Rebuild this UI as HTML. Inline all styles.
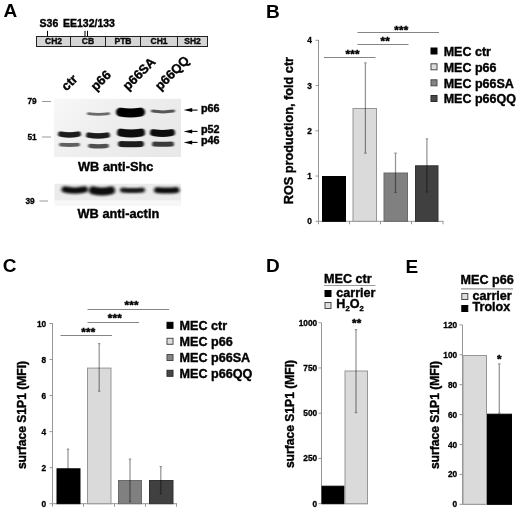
<!DOCTYPE html>
<html><head><meta charset="utf-8"><title>Figure</title>
<style>
html,body{margin:0;padding:0;background:#fff;}
body{width:520px;height:510px;overflow:hidden;}
svg{display:block;}
text{font-family:"Liberation Sans",sans-serif;font-weight:bold;fill:#000;stroke:#000;stroke-width:0.38px;}
.pl{font-size:19px;stroke-width:0;}
.t8{font-size:8.3px;stroke-width:0.3px;}
.t12{font-size:12.6px;}
.ax{stroke:#969696;stroke-width:1;fill:none;}
.eb{stroke:#000;stroke-opacity:0.42;stroke-width:1.25;fill:none;}
.sg{stroke:#858585;stroke-width:1;fill:none;}
.st{font-size:11.6px;text-anchor:middle;stroke-width:0.45px;letter-spacing:0.25px;}
</style></head><body>
<svg width="520" height="510" viewBox="0 0 520 510">
<defs>
<filter id="b1" filterUnits="userSpaceOnUse" x="40" y="90" width="160" height="80"><feGaussianBlur stdDeviation="1.0 0.75"/></filter>
<filter id="b2" filterUnits="userSpaceOnUse" x="40" y="175" width="160" height="40"><feGaussianBlur stdDeviation="1.4 1.0"/></filter>
<linearGradient id="g1" x1="0" y1="0" x2="1" y2="0.45"><stop offset="0" stop-color="#f8f8f8"/><stop offset="0.45" stop-color="#efefef"/><stop offset="1" stop-color="#e9e9e9"/></linearGradient>
</defs>
<rect x="0" y="0" width="520" height="510" fill="#fff"/>

<g id="panelA">
<text class="pl" x="3.6" y="16.5">A</text>
<text x="39.6" y="27" style="font-size:10.5px">S36 <tspan x="63">EE132/133</tspan></text>
<path d="M47.5 30.8V36M85 30.8V36M87.5 30.8V36" stroke="#000" stroke-width="1" fill="none"/>
<rect x="36.5" y="36.5" width="171" height="10" fill="#d6d6d6" stroke="#222" stroke-width="1"/>
<path d="M70.5 36.5V46.5M105.5 36.5V46.5M140.5 36.5V46.5M177.5 36.5V46.5" stroke="#222" stroke-width="1" fill="none"/>
<text transform="translate(53.5 44.4) scale(0.92 1)" text-anchor="middle" style="font-size:9.3px;fill:#111">CH2</text>
<text transform="translate(88 44.4) scale(0.92 1)" text-anchor="middle" style="font-size:9.3px;fill:#111">CB</text>
<text transform="translate(123 44.4) scale(0.92 1)" text-anchor="middle" style="font-size:9.3px;fill:#111">PTB</text>
<text transform="translate(159 44.4) scale(0.92 1)" text-anchor="middle" style="font-size:9.3px;fill:#111">CH1</text>
<text transform="translate(192.5 44.4) scale(0.92 1)" text-anchor="middle" style="font-size:9.3px;fill:#111">SH2</text>
<text transform="translate(66.6 91.5) rotate(-45)" style="font-size:12.9px">ctr</text>
<text transform="translate(96 91.5) rotate(-45)" style="font-size:12.9px">p66</text>
<text transform="translate(128 91) rotate(-45)" style="font-size:12.9px">p66SA</text>
<text transform="translate(160.3 91) rotate(-45)" style="font-size:12.9px">p66QQ</text>
<rect x="54" y="98.8" width="127" height="58.2" fill="url(#g1)"/>
<g filter="url(#b1)">
<path d="M60.8 134.10Q69.5 135.70 78.2 134.10" stroke="#1c1c1c" stroke-width="5.5" stroke-linecap="round" fill="none" opacity="1"/>
<path d="M60.9 144.60Q69.5 145.40 78.1 144.60" stroke="#606060" stroke-width="3.8" stroke-linecap="round" fill="none" opacity="1"/>
<path d="M88.3 113.60Q98.5 115.20 108.7 113.60" stroke="#6a6a6a" stroke-width="2.6" stroke-linecap="round" fill="none" opacity="1"/>
<path d="M88.8 135.10Q98.0 136.70 107.2 135.10" stroke="#1c1c1c" stroke-width="5.5" stroke-linecap="round" fill="none" opacity="1"/>
<path d="M90.2 145.85Q98.5 146.85 106.8 145.85" stroke="#505050" stroke-width="4.3" stroke-linecap="round" fill="none" opacity="1"/>
<path d="M120.5 112.10Q130.5 113.70 140.5 112.10" stroke="#050505" stroke-width="9" stroke-linecap="round" fill="none" opacity="1"/>
<path d="M121.0 132.60Q131.0 134.20 141.0 132.60" stroke="#0a0a0a" stroke-width="8" stroke-linecap="round" fill="none" opacity="1"/>
<path d="M121.0 143.95Q131.0 144.55 141.0 143.95" stroke="#1c1c1c" stroke-width="6" stroke-linecap="round" fill="none" opacity="1"/>
<path d="M152.5 111.10Q163.0 112.70 173.5 111.10" stroke="#555" stroke-width="3" stroke-linecap="round" fill="none" opacity="1"/>
<path d="M153.5 132.60Q162.5 134.20 171.5 132.60" stroke="#111" stroke-width="7" stroke-linecap="round" fill="none" opacity="1"/>
<path d="M154.5 144.00Q163.0 144.40 171.5 144.00" stroke="#3a3a3a" stroke-width="5" stroke-linecap="round" fill="none" opacity="1"/>
</g>
<text class="t8" x="27.5" y="104" >79</text>
<text class="t8" x="27.5" y="139.5">51</text>
<text class="t8" x="25.5" y="203.8">39</text>
<path d="M42 101.5H51M42 137H51M39.5 201H48" stroke="#999" stroke-width="1" fill="none"/>
<path d="M197.5 110.1H190" stroke="#000" stroke-width="1.1" fill="none"/><path d="M183.6 110.1l8.6 -2v4z" fill="#000"/>
<text x="201" y="112.2" style="font-size:10.8px">p66</text>
<path d="M197.5 131.4H190" stroke="#000" stroke-width="1.1" fill="none"/><path d="M183.6 131.4l8.6 -2v4z" fill="#000"/>
<text x="201" y="132.8" style="font-size:10.8px">p52</text>
<path d="M197.5 142.4H190" stroke="#000" stroke-width="1.1" fill="none"/><path d="M183.6 142.4l8.6 -2v4z" fill="#000"/>
<text x="201" y="144" style="font-size:10.8px">p46</text>
<text x="78" y="171" style="font-size:12.8px">WB anti-Shc</text>
<rect x="54.5" y="184" width="126.5" height="22" fill="#f7f7f7"/>
<rect x="54.5" y="183.7" width="126.5" height="16.6" fill="#ebebeb"/>
<g filter="url(#b2)">
<path d="M64.7 189.40Q74.8 191.80 84.8 189.40" stroke="#111" stroke-width="6.3" stroke-linecap="round" fill="none" opacity="1"/>
<path d="M93.0 190.40Q102.0 192.80 111.0 190.40" stroke="#0c0c0c" stroke-width="8" stroke-linecap="round" fill="none" opacity="1"/>
<path d="M122.5 190.00Q132.5 191.20 142.5 190.00" stroke="#181818" stroke-width="5" stroke-linecap="round" fill="none" opacity="1"/>
<path d="M157.0 190.00Q166.8 191.20 176.5 190.00" stroke="#111" stroke-width="6" stroke-linecap="round" fill="none" opacity="1"/>
</g>
<text x="77.5" y="217.5" style="font-size:12.8px">WB anti-actin</text>
</g>
<g id="panelB">
<text class="pl" x="266.1" y="18.3">B</text>
<text class="t12" transform="translate(293 130.6) rotate(-90)" text-anchor="middle" style="font-size:12.7px">ROS production, fold ctr</text>
<path class="ax" d="M318.5 40V221.3H443.5"/>
<text class="t8" x="311.8" y="224.3" text-anchor="end">0</text>
<text class="t8" x="311.8" y="179.05" text-anchor="end">1</text>
<text class="t8" x="311.8" y="133.8" text-anchor="end">2</text>
<text class="t8" x="311.8" y="88.55" text-anchor="end">3</text>
<text class="t8" x="311.8" y="43.3" text-anchor="end">4</text>
<path class="ax" d="M315.5 221.3H318.5M315.5 176.05H318.5M315.5 130.8H318.5M315.5 85.55H318.5M315.5 40.3H318.5M318.5 221.3V224.3M349.5 221.3V224.3M380.5 221.3V224.3M411.5 221.3V224.3M443 221.3V224.3"/>
<rect x="322.5" y="176.5" width="23" height="44.80000000000001" fill="#000" stroke="#000" stroke-width="1"/>
<rect x="353.0" y="108.5" width="23.5" height="112.80000000000001" fill="#dadada" stroke="#969696" stroke-width="1"/>
<rect x="384.0" y="173.0" width="23.5" height="48.30000000000001" fill="#808080" stroke="#6a6a6a" stroke-width="1"/>
<rect x="415.5" y="165.8" width="22.5" height="55.5" fill="#404040" stroke="#333" stroke-width="1"/>
<path class="eb" d="M365.4 62.8V153M364.2 62.8H366.59999999999997M364.2 153H366.59999999999997"/>
<path class="eb" d="M395.5 153V192.4M394.3 153H396.7M394.3 192.4H396.7"/>
<path class="eb" d="M426.9 138.8V191.8M425.7 138.8H428.09999999999997M425.7 191.8H428.09999999999997"/>
<path class="sg" d="M324 57.5H375.5M357.5 44.5H408.5M357.5 32.5H439"/>
<text class="st" x="352.7" y="58">***</text>
<text class="st" x="385.2" y="44.9">**</text>
<text class="st" x="401.4" y="34">***</text>
<rect x="431.0" y="48.0" width="6" height="6" fill="#000" stroke="#000" stroke-width="1"/>
<text x="443.7" y="55.8" style="font-size:12.5px">MEC ctr</text>
<rect x="431.0" y="63.8" width="6" height="6" fill="#dedede" stroke="#4a4a4a" stroke-width="1"/>
<text x="443.7" y="71.6" style="font-size:12.5px">MEC p66</text>
<rect x="431.0" y="79.8" width="6" height="6" fill="#858585" stroke="#4a4a4a" stroke-width="1"/>
<text x="443.7" y="87.6" style="font-size:12.5px">MEC p66SA</text>
<rect x="431.0" y="95.5" width="6" height="6" fill="#484848" stroke="#2a2a2a" stroke-width="1"/>
<text x="443.7" y="103.3" style="font-size:12.5px">MEC p66QQ</text>
</g>
<g id="panelC">
<text class="pl" x="2.7" y="271.6">C</text>
<text transform="translate(26.3 415) rotate(-90)" text-anchor="middle" style="font-size:12.1px">surface S1P1 (MFI)</text>
<path class="ax" d="M52.5 323V503.7H177"/>
<text class="t8" x="46.2" y="506.7" text-anchor="end">0</text>
<text class="t8" x="46.2" y="470.66" text-anchor="end">2</text>
<text class="t8" x="46.2" y="434.62" text-anchor="end">4</text>
<text class="t8" x="46.2" y="398.58" text-anchor="end">6</text>
<text class="t8" x="46.2" y="362.54" text-anchor="end">8</text>
<text class="t8" x="46.2" y="326.5" text-anchor="end">10</text>
<path class="ax" d="M49.5 503.7H52.5M49.5 467.66H52.5M49.5 431.62H52.5M49.5 395.58H52.5M49.5 359.54H52.5M49.5 323.5H52.5M52.5 503.7V506.7M83.5 503.7V506.7M114.5 503.7V506.7M145.5 503.7V506.7M176.5 503.7V506.7"/>
<rect x="57.0" y="468.8" width="23.0" height="34.89999999999998" fill="#000" stroke="#000" stroke-width="1"/>
<rect x="87.5" y="368.1" width="23.5" height="135.59999999999997" fill="#dadada" stroke="#969696" stroke-width="1"/>
<rect x="118.5" y="480.5" width="23" height="23.19999999999999" fill="#808080" stroke="#6a6a6a" stroke-width="1"/>
<rect x="149.5" y="480.5" width="23.5" height="23.19999999999999" fill="#404040" stroke="#333" stroke-width="1"/>
<path class="eb" d="M68 449V487M66.8 449H69.2M66.8 487H69.2"/>
<path class="eb" d="M99.2 343.7V391.2M98.0 343.7H100.4M98.0 391.2H100.4"/>
<path class="eb" d="M130 459V501.5M128.8 459H131.2M128.8 501.5H131.2"/>
<path class="eb" d="M160.8 466.5V493.6M159.60000000000002 466.5H162.0M159.60000000000002 493.6H162.0"/>
<path class="sg" d="M60.5 335.5H112M87.5 322.5H139M87.5 309.5H169"/>
<text class="st" x="88.3" y="335.5">***</text>
<text class="st" x="115" y="322">***</text>
<text class="st" x="131.7" y="308.5">***</text>
<rect x="167.0" y="322.3" width="6" height="6" fill="#000" stroke="#000" stroke-width="1"/>
<text x="179.5" y="330.1" style="font-size:12.6px">MEC ctr</text>
<rect x="167.0" y="338.3" width="6" height="6" fill="#dedede" stroke="#4a4a4a" stroke-width="1"/>
<text x="179.5" y="346.1" style="font-size:12.6px">MEC p66</text>
<rect x="167.0" y="354.5" width="6" height="6" fill="#858585" stroke="#4a4a4a" stroke-width="1"/>
<text x="179.5" y="362.3" style="font-size:12.6px">MEC p66SA</text>
<rect x="167.0" y="370.3" width="6" height="6" fill="#484848" stroke="#2a2a2a" stroke-width="1"/>
<text x="179.5" y="378.1" style="font-size:12.6px">MEC p66QQ</text>
</g>
<g id="panelD">
<text class="pl" x="266.1" y="271.5">D</text>
<text x="324" y="282.5" style="font-size:12.6px">MEC ctr</text>
<path d="M324 285.5H375.5" stroke="#999" stroke-width="1.2" fill="none"/>
<rect x="325" y="290.5" width="6" height="6" fill="#000" stroke="#000"/>
<text x="336.3" y="296.8" style="font-size:12.6px">carrier</text>
<rect x="325" y="302.5" width="6" height="6" fill="#dedede" stroke="#4a4a4a"/>
<text x="336.3" y="308.2" style="font-size:12.6px">H<tspan dy="3.2" style="font-size:7.7px">2</tspan><tspan dy="-3.2">O</tspan><tspan dy="3.2" style="font-size:7.7px">2</tspan></text>
<text transform="translate(294 414) rotate(-90)" text-anchor="middle" style="font-size:12.1px">surface S1P1 (MFI)</text>
<path class="ax" d="M321.5 323V503.7H368"/>
<text class="t8" x="317.2" y="506.7" text-anchor="end">0</text>
<text class="t8" x="317.2" y="461.45" text-anchor="end">250</text>
<text class="t8" x="317.2" y="416.2" text-anchor="end">500</text>
<text class="t8" x="317.2" y="370.95" text-anchor="end">750</text>
<text class="t8" x="317.2" y="325.7" text-anchor="end">1000</text>
<path class="ax" d="M318.5 503.7H321.5M318.5 458.45H321.5M318.5 413.2H321.5M318.5 367.95H321.5M318.5 322.7H321.5"/>
<rect x="322.0" y="486.2" width="22.0" height="17.5" fill="#000" stroke="#000" stroke-width="1"/>
<rect x="345.0" y="371.0" width="22.5" height="132.7" fill="#dadada" stroke="#969696" stroke-width="1"/>
<path class="eb" d="M356 329.5V412.5M354.8 329.5H357.2M354.8 412.5H357.2"/>
<text class="st" x="356.8" y="327.3">**</text>
</g>
<g id="panelE">
<text class="pl" x="405.4" y="273.1">E</text>
<text x="460.5" y="283.8" style="font-size:12.6px">MEC p66</text>
<path d="M461 288.8H513" stroke="#999" stroke-width="1.2" fill="none"/>
<rect x="461.8" y="293.5" width="6" height="6" fill="#dedede" stroke="#4a4a4a"/>
<text x="472.5" y="299.5" style="font-size:12.6px">carrier</text>
<rect x="461.8" y="305.5" width="6" height="6" fill="#000" stroke="#000"/>
<text x="472.5" y="311.3" style="font-size:12.6px">Trolox</text>
<text transform="translate(439 415) rotate(-90)" text-anchor="middle" style="font-size:12.1px">surface S1P1 (MFI)</text>
<path class="ax" d="M462.5 325V504.3H512"/>
<text class="t8" x="457.2" y="507.3" text-anchor="end">0</text>
<text class="t8" x="457.2" y="477.4" text-anchor="end">20</text>
<text class="t8" x="457.2" y="447.5" text-anchor="end">40</text>
<text class="t8" x="457.2" y="417.6" text-anchor="end">60</text>
<text class="t8" x="457.2" y="387.7" text-anchor="end">80</text>
<text class="t8" x="457.2" y="357.8" text-anchor="end">100</text>
<text class="t8" x="457.2" y="327.9" text-anchor="end">120</text>
<path class="ax" d="M459.5 504.3H462.5M459.5 474.4H462.5M459.5 444.5H462.5M459.5 414.6H462.5M459.5 384.7H462.5M459.5 354.8H462.5M459.5 324.9H462.5"/>
<rect x="463.0" y="355.5" width="23.5" height="148.8" fill="#dadada" stroke="#969696" stroke-width="1"/>
<rect x="487.5" y="414.2" width="24" height="90.10000000000002" fill="#000" stroke="#000" stroke-width="1"/>
<path class="eb" d="M499.3 363.8V413M498.1 363.8H500.5M498.1 413H500.5"/>
<text class="st" x="499.3" y="362.5">*</text>
</g>
</svg>
</body></html>
